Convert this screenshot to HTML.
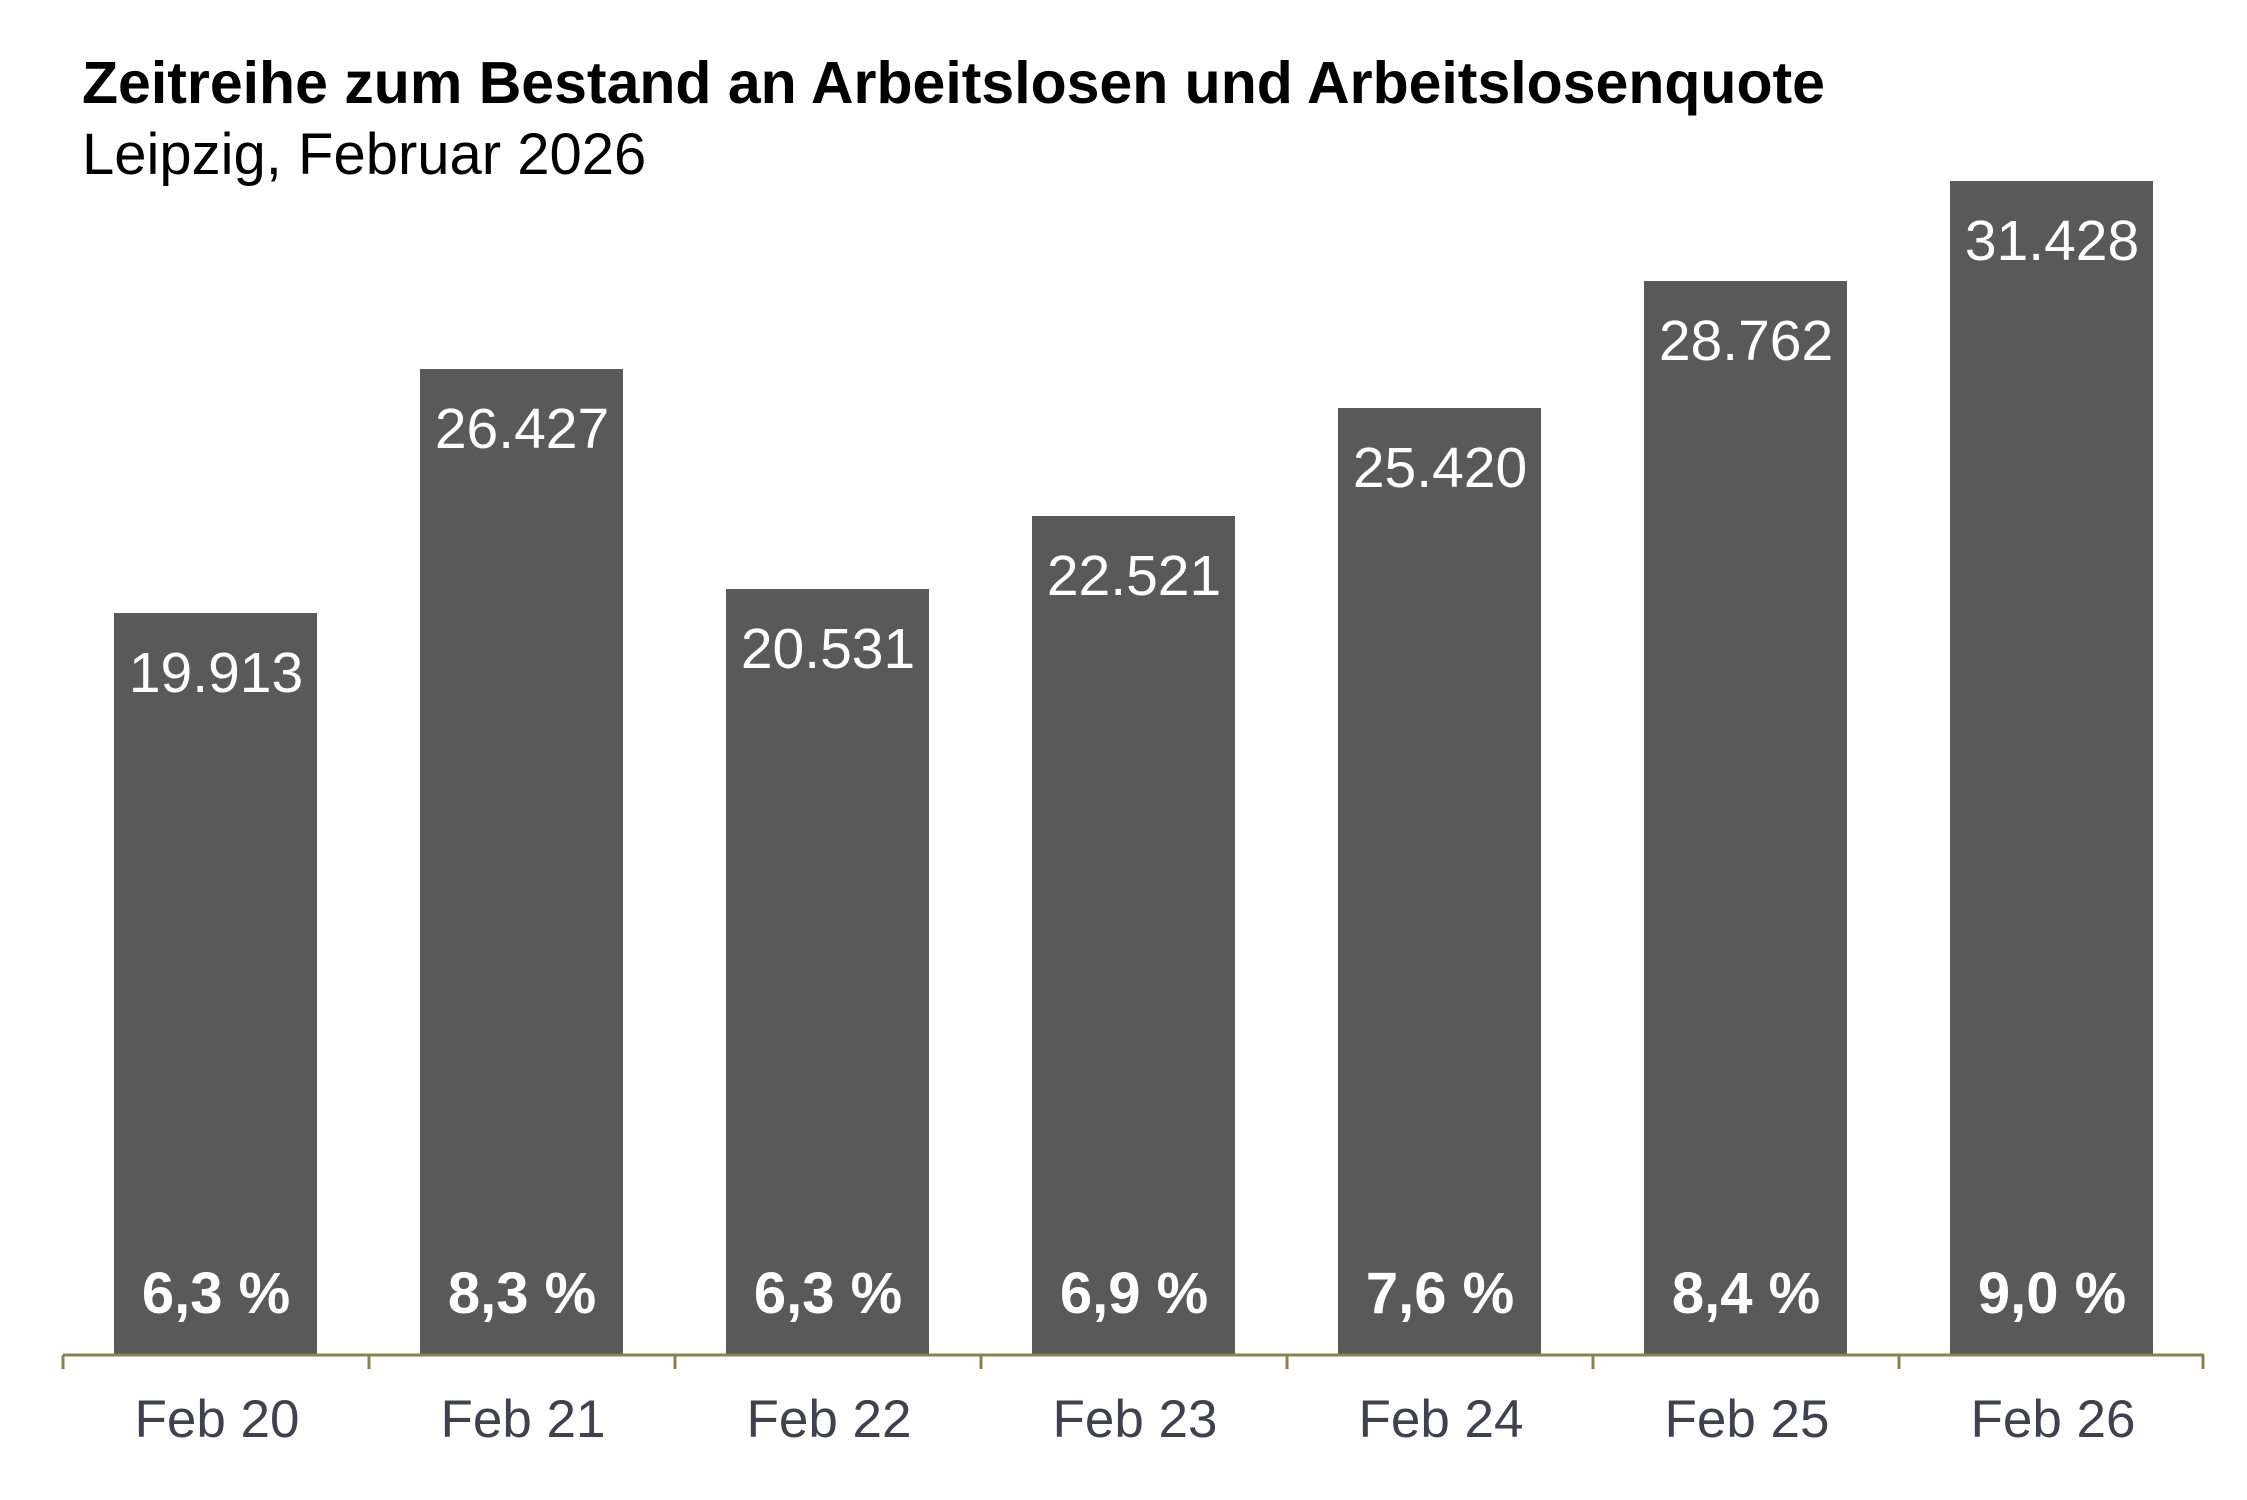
<!DOCTYPE html>
<html><head><meta charset="utf-8"><style>
html,body{margin:0;padding:0;background:#fff;}
svg{display:block;}
text{font-family:"Liberation Sans",Arial,sans-serif;}
</style></head><body>
<svg width="2247" height="1500" viewBox="0 0 2247 1500" xmlns="http://www.w3.org/2000/svg">
<text x="82" y="103" font-size="59" font-weight="bold" fill="#000">Zeitreihe zum Bestand an Arbeitslosen und Arbeitslosenquote</text>
<text x="82" y="174" font-size="58" fill="#000">Leipzig, Februar 2026</text>
<g fill="#595959">
<rect x="114" y="613" width="203" height="741"/>
<rect x="420" y="369" width="203" height="985"/>
<rect x="726" y="589" width="203" height="765"/>
<rect x="1032" y="516" width="203" height="838"/>
<rect x="1338" y="408" width="203" height="946"/>
<rect x="1644" y="281" width="203" height="1073"/>
<rect x="1950" y="181" width="203" height="1173"/>
</g>
<g fill="#fff" font-size="57" text-anchor="middle">
<text x="216" y="692">19.913</text>
<text x="522" y="448">26.427</text>
<text x="828" y="668">20.531</text>
<text x="1134" y="595">22.521</text>
<text x="1440" y="487">25.420</text>
<text x="1746" y="360">28.762</text>
<text x="2052" y="260">31.428</text>
</g>
<g fill="#fff" font-size="58" font-weight="bold" text-anchor="middle">
<text x="216" y="1313">6,3 %</text>
<text x="522" y="1313">8,3 %</text>
<text x="828" y="1313">6,3 %</text>
<text x="1134" y="1313">6,9 %</text>
<text x="1440" y="1313">7,6 %</text>
<text x="1746" y="1313">8,4 %</text>
<text x="2052" y="1313">9,0 %</text>
</g>
<g stroke="#8c8050" stroke-width="3" fill="none">
<line x1="63" y1="1355" x2="2204" y2="1355"/>
<line x1="63" y1="1355" x2="63" y2="1369"/>
<line x1="369" y1="1355" x2="369" y2="1369"/>
<line x1="675" y1="1355" x2="675" y2="1369"/>
<line x1="981" y1="1355" x2="981" y2="1369"/>
<line x1="1287" y1="1355" x2="1287" y2="1369"/>
<line x1="1593" y1="1355" x2="1593" y2="1369"/>
<line x1="1899" y1="1355" x2="1899" y2="1369"/>
<line x1="2203" y1="1355" x2="2203" y2="1369"/>
</g>
<g fill="#404050" font-size="53" text-anchor="middle">
<text x="217" y="1437">Feb 20</text>
<text x="523" y="1437">Feb 21</text>
<text x="829" y="1437">Feb 22</text>
<text x="1135" y="1437">Feb 23</text>
<text x="1441" y="1437">Feb 24</text>
<text x="1747" y="1437">Feb 25</text>
<text x="2053" y="1437">Feb 26</text>
</g>
</svg>
</body></html>
